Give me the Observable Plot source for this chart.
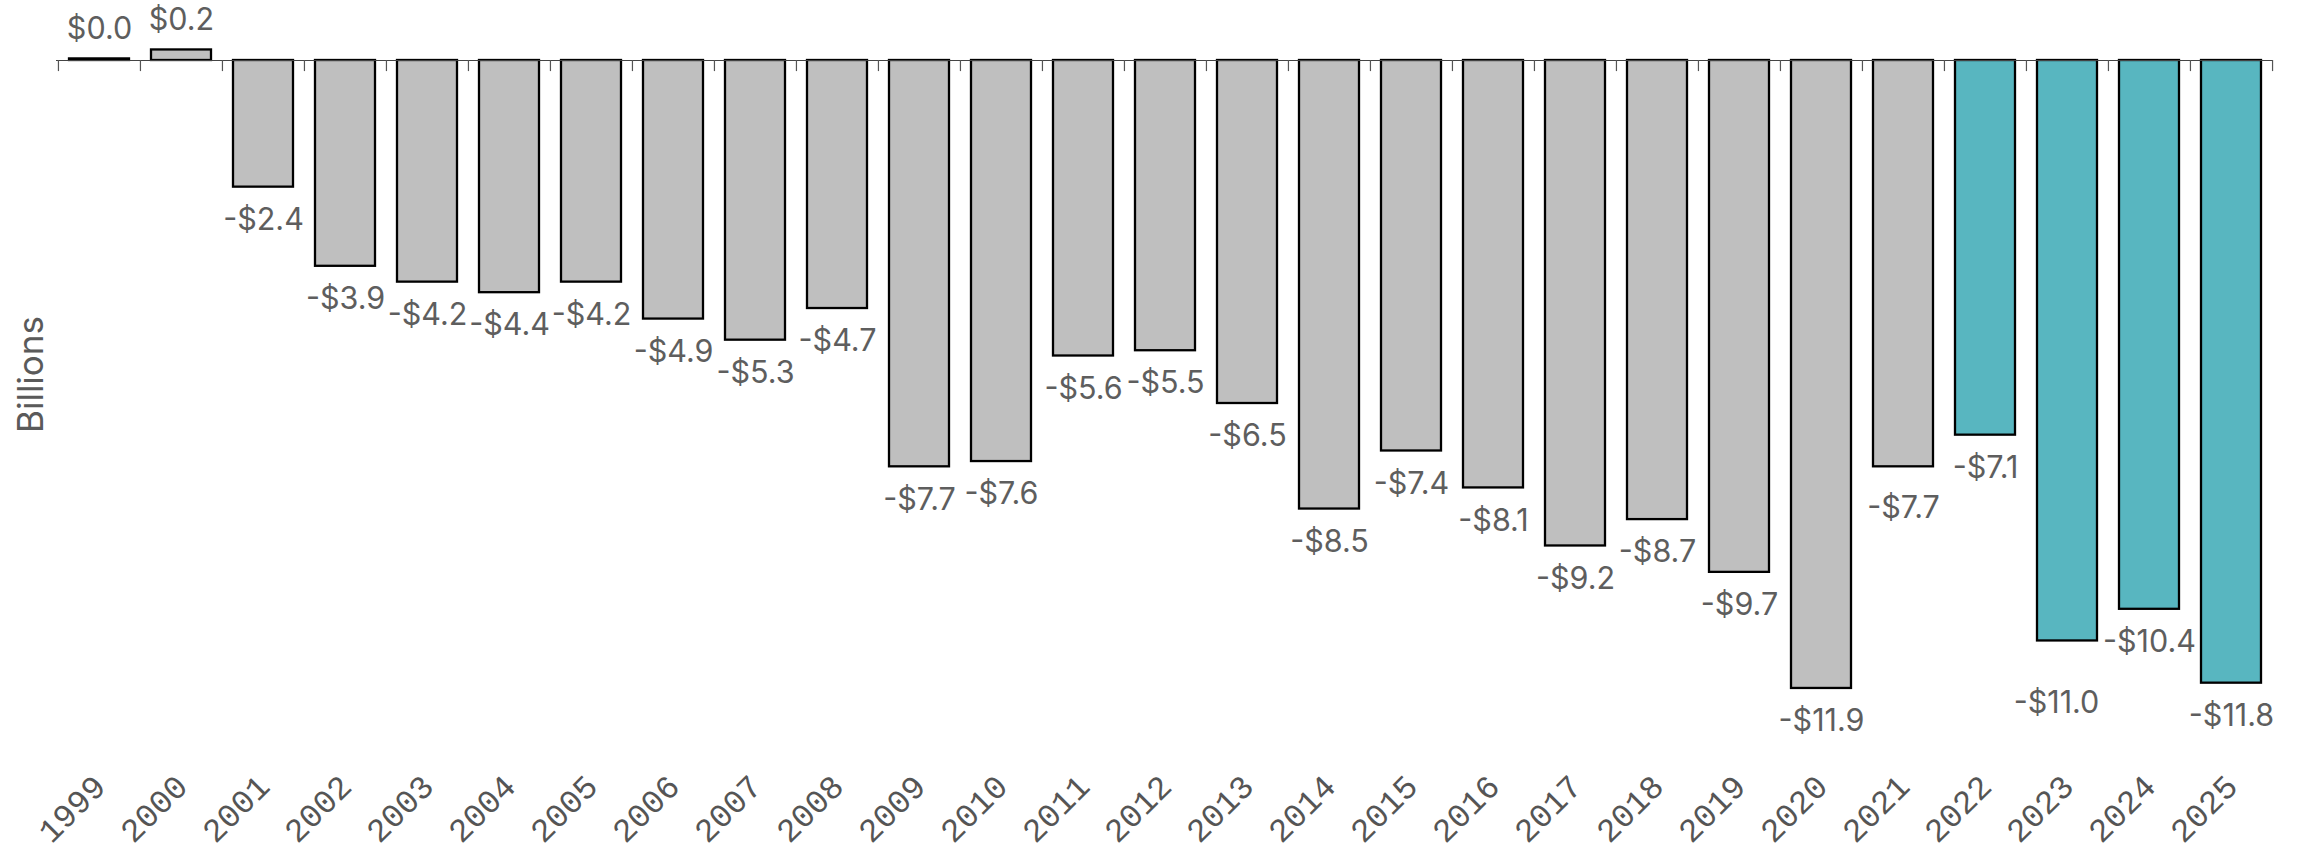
<!DOCTYPE html>
<html>
<head>
<meta charset="utf-8">
<script src="https://cdn.jsdelivr.net/npm/d3@7"></script>
<script src="https://cdn.jsdelivr.net/npm/@observablehq/plot@0.6"></script>
<style>
  html, body { margin: 0; padding: 0; background: #fff; }
  #chart svg { display: block; }
</style>
</head>
<body>
<div id="chart"></div>
<script>
// ---- data ----
const years = ["1999","2000","2001","2002","2003","2004","2005","2006","2007","2008","2009","2010","2011","2012","2013","2014","2015","2016","2017","2018","2019","2020","2021","2022","2023","2024","2025"];
const values = [0.03, 0.2, -2.4, -3.9, -4.2, -4.4, -4.2, -4.9, -5.3, -4.7, -7.7, -7.6, -5.6, -5.5, -6.5, -8.5, -7.4, -8.1, -9.2, -8.7, -9.7, -11.9, -7.7, -7.1, -11.0, -10.4, -11.8];
const projectedYears = ["2022","2023","2024","2025"];
const yLabel = "Billions";

const data = years.map((year, i) => ({
  year,
  value: values[i],
  phase: projectedYears.includes(year) ? "Projected" : "Actual"
}));

const fmt = v => (v < 0 ? "-$" : "$") + Math.abs(v).toFixed(1);

// ---- layout ----
const W = 2310, H = 855;
const mL = 56, mR = 37, mT = 60, mB = 109;
const step = (W - mL - mR) / years.length;
const labelFont = "Inter, 'Noto Sans', sans-serif";
const labelStyle = { fill: "#5e5e5e", fontSize: 30.5, fontFamily: labelFont, lineAnchor: "middle" };

const chart = Plot.plot({
  width: W,
  height: H,
  marginLeft: mL,
  marginRight: mR,
  marginTop: mT,
  marginBottom: mB,
  style: { background: "#fff", fontFamily: labelFont },
  x: { type: "band", domain: years, paddingInner: 0.27, paddingOuter: 0.135, axis: null },
  y: { domain: [-13, 0], axis: null },
  color: { domain: ["Actual", "Projected"], range: ["#bfbfbf", "#58b6c0"] },
  marks: [
    Plot.barY(data, { x: "year", y: "value", fill: "phase", stroke: "#000", strokeWidth: 2.3 }),
    Plot.ruleY([0], { stroke: "#444", strokeWidth: 1.2 }),
    // tick marks at band boundaries
    Plot.ruleX(years, { x: d => d, y1: 0, y2: -0.21, dx: -step / 2, stroke: "#555", strokeWidth: 1.2 }),
    Plot.ruleX(years.slice(-1), { x: d => d, y1: 0, y2: -0.21, dx: step / 2, stroke: "#555", strokeWidth: 1.2 }),
    // positive value labels
    Plot.text(data.filter(d => d.value >= 0), {
      x: "year", y: "value", text: d => fmt(d.value), dy: -30, ...labelStyle
    }),
    // negative value labels
    Plot.text(data.filter(d => d.value < 0 && d.year !== "2021" && d.year !== "2023"), {
      x: "year", y: "value", text: d => fmt(d.value), dy: 33, ...labelStyle
    }),
    Plot.text(data.filter(d => d.year === "2021"), {
      x: "year", y: "value", text: d => fmt(d.value), dy: 41, ...labelStyle
    }),
    Plot.text(data.filter(d => d.year === "2023"), {
      x: "year", y: "value", text: d => fmt(d.value), dy: 62, dx: -11, ...labelStyle
    }),
    // year labels
    Plot.text(data, {
      x: "year", text: "year", frameAnchor: "bottom", rotate: -45,
      textAnchor: "end", lineAnchor: "bottom", dx: 8, dy: 42,
      fill: "#555", fontSize: 33, fontFamily: "'Liberation Mono', 'DejaVu Sans Mono', monospace"
    }),
    // y label
    Plot.text([yLabel], {
      frameAnchor: "left", text: d => d, rotate: -90, dx: -24.5, dy: -29,
      lineAnchor: "middle", textAnchor: "middle",
      fill: "#5a5a5a", fontSize: 35, fontFamily: labelFont
    })
  ]
});

document.getElementById("chart").appendChild(chart);
</script>
</body>
</html>
